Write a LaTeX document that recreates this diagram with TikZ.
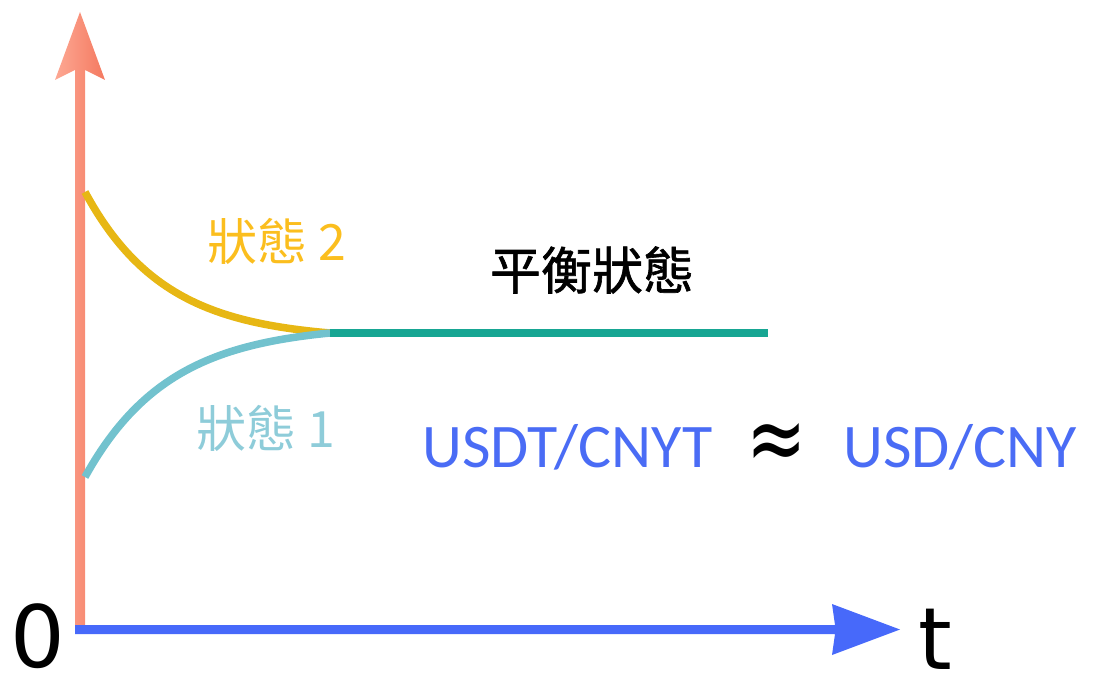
\documentclass[tikz,border=0pt]{standalone}
\usepackage{fontspec}
\newfontfamily\cjkfont{Noto Sans CJK TC}
\newfontfamily\cjkfontb[FakeBold=1.2]{Noto Sans CJK TC}
\newfontfamily\calfont{Carlito}
\newfontfamily\dvfont{DejaVu Sans}
\definecolor{axred}{HTML}{F88B75}
\definecolor{axredL}{HTML}{FDA893}
\definecolor{axredR}{HTML}{F47960}
\definecolor{axblue}{HTML}{4769FA}
\definecolor{curvY}{HTML}{E7B714}
\definecolor{curvB}{HTML}{72C2CE}
\definecolor{eqgreen}{HTML}{17A693}
\definecolor{txtY}{HTML}{FBBE1E}
\definecolor{txtB}{HTML}{8ECCD9}
\definecolor{txtBlue}{HTML}{4A6CF5}
\begin{document}
\begin{tikzpicture}[x=1pt,y=-1pt,
  curve/.style={line width=7.5pt},
  lbl/.style={inner sep=0pt, font=\cjkfont\fontsize{50}{50}\selectfont},
  axlbl/.style={inner sep=0pt, font=\dvfont\fontsize{86}{86}\selectfont},
  eqtxt/.style={inner sep=0pt, text=txtBlue, font=\calfont\fontsize{62}{62}\selectfont}]
\useasboundingbox (0,0) rectangle (1096,677);
% vertical axis (red, gradient)
\shade[left color=axredL, right color=axredR]
  (75,625) -- (75,70) -- (55,80) -- (80,12) -- (105,80) -- (85,70) -- (85,625) -- cycle;
% horizontal axis (blue)
\fill[axblue] (75,625) -- (835,625) -- (832,604) -- (900,629.5) -- (832,655) -- (835,634) -- (75,634) -- cycle;
% curves
\draw[curve, curvY] plot[domain=0:245, samples=80, smooth]
  ({85+\x},{333-141*(exp(-\x/80)-exp(-245/80))/(1-exp(-245/80))});
\draw[curve, curvB] plot[domain=0:245, samples=80, smooth]
  ({85+\x},{333+144*(exp(-\x/84)-exp(-245/84))/(1-exp(-245/84))});
\coordinate (eqs) at (330,333);
\coordinate (eqe) at (768,333);
\draw[curve, eqgreen] (eqs) -- (eqe);
% labels
\node[lbl, text=txtY] (s2) at (277,241) {狀態 2};
\node[lbl, text=txtB] (s1) at (266,428) {狀態 1};
\node[lbl, text=black, font=\cjkfontb\fontsize{51}{51}\selectfont] (eq) at (592,270) {平衡狀態};
\node[eqtxt, anchor=base west] (usdt) at (422,467) {USDT/CNYT};
\node[inner sep=0pt, font=\dvfont\fontsize{72}{72}\selectfont] (approx) at (777,447) {\scalebox{1}[1.35]{≈}};
\node[eqtxt, anchor=base west] (usd) at (843,467) {USD/CNY};
\node[axlbl] (zero) at (38,636) {0};
\node[axlbl] (t) at (935,639) {t};
\end{tikzpicture}
\end{document}
